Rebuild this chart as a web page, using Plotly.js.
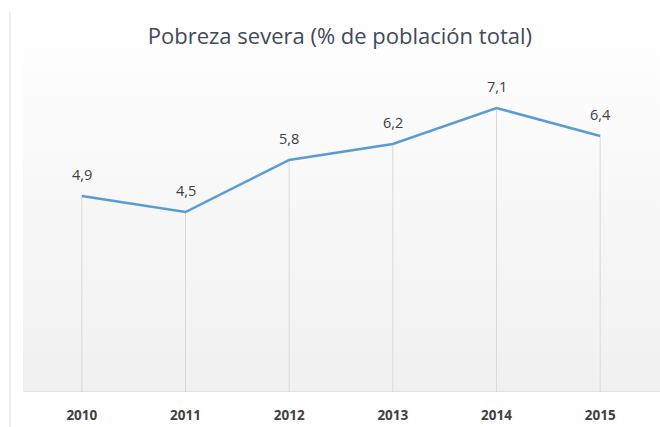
<!DOCTYPE html>
<html>
<head>
<meta charset="utf-8">
<script src="https://cdn.plot.ly/plotly-3.0.1.min.js"></script>
<style>html,body{margin:0;padding:0;background:#fff;}#chart{width:660px;height:427px;}</style>
</head>
<body>
<div id="chart"></div>
<script>
const years = ['2010', '2011', '2012', '2013', '2014', '2015'];
const values = [4.9, 4.5, 5.8, 6.2, 7.1, 6.4];
const labels = ['4,9', '4,5', '5,8', '6,2', '7,1', '6,4'];

const zeros = values.map(() => 0);

const svg = '<svg xmlns="http://www.w3.org/2000/svg" width="10" height="100" preserveAspectRatio="none">' +
  '<defs><linearGradient id="g" x1="0" y1="0" x2="0" y2="1">' +
  '<stop offset="0" stop-color="#ffffff"/><stop offset="1" stop-color="#f0f0f0"/></linearGradient></defs>' +
  '<rect width="10" height="100" fill="url(#g)"/></svg>';
const bgSrc = 'data:image/svg+xml;base64,' + btoa(svg);

const L = 30, W = 622, T = 72, H = 320;
const px = x => (x - L) / W;
const py = y => (T + H - y) / H;

const trace = {
  type: 'scatter',
  mode: 'lines',
  x: years,
  y: values,
  line: {color: '#5b9bd5', width: 2.5},
  error_y: {type: 'data', symmetric: false, array: zeros, arrayminus: values,
            color: '#d9d9d9', thickness: 1, width: 0},
  hoverinfo: 'skip'
};

const annotations = years.map((yr, i) => ({
  x: i, y: values[i], xref: 'x', yref: 'y', text: labels[i], showarrow: false,
  yshift: 22, xanchor: 'center', yanchor: 'middle',
  font: {family: 'Open Sans, sans-serif', size: 14.5, color: '#404040'}
}));

const layout = {
  width: 660, height: 427,
  margin: {l: L, r: 660 - L - W, t: T, b: 427 - T - H},
  paper_bgcolor: '#ffffff',
  plot_bgcolor: 'rgba(0,0,0,0)',
  showlegend: false,
  title: {text: 'Pobreza severa (% de población total)',
          font: {family: 'Open Sans, sans-serif', size: 22, color: '#3f4a5a'},
          x: 0.515, xanchor: 'center', y: 0.915, yanchor: 'middle'},
  xaxis: {type: 'category', range: [-0.5, 5.5], showgrid: false, zeroline: false,
          showline: false, ticks: '', ticklabelstandoff: 13,
          tickfont: {family: 'Open Sans, sans-serif', size: 13.5, color: '#404040', weight: 'bold'},
          fixedrange: true},
  yaxis: {range: [0, 8], visible: false, fixedrange: true},
  annotations: annotations,
  images: [{source: bgSrc, xref: 'paper', yref: 'paper', x: px(23), y: py(12),
            sizex: px(660) - px(23), sizey: py(12) - py(392),
            xanchor: 'left', yanchor: 'top', sizing: 'stretch', layer: 'below'}],
  shapes: [
    {type: 'line', xref: 'paper', yref: 'y', x0: px(23), x1: px(660), y0: 0, y1: 0,
     line: {color: '#d9d9d9', width: 1}},
    {type: 'line', xref: 'paper', yref: 'paper', x0: px(10), x1: px(10), y0: py(12), y1: py(427),
     line: {color: '#d9d9d9', width: 1}}
  ]
};

Plotly.newPlot('chart', [trace], layout, {staticPlot: true, displayModeBar: false});
</script>
</body>
</html>
